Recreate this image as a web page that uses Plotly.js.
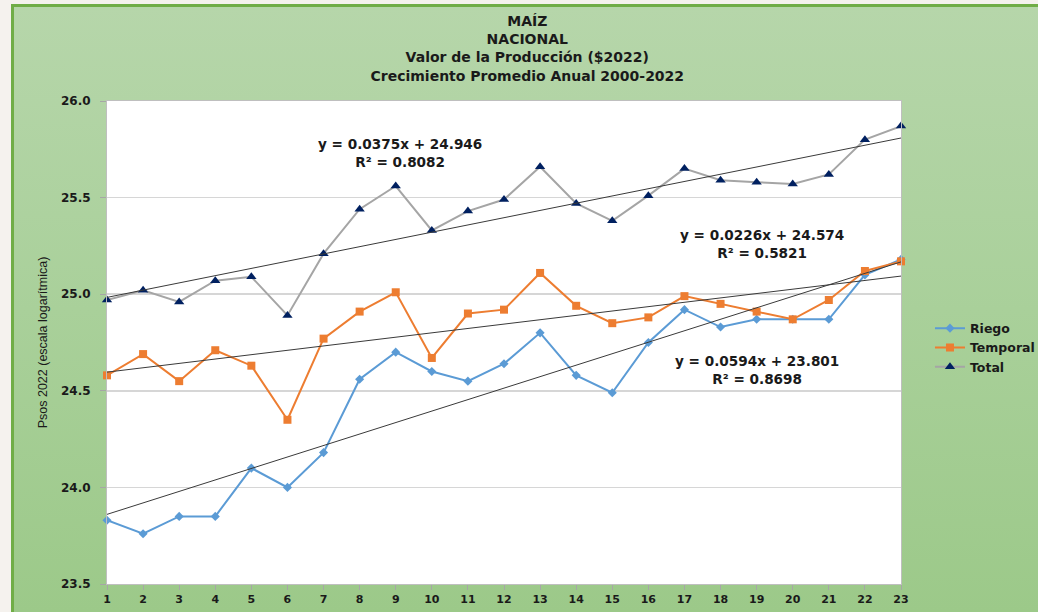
<!DOCTYPE html>
<html>
<head>
<meta charset="utf-8">
<script src="https://cdn.plot.ly/plotly-3.0.1.min.js"></script>
<style>
  html, body { margin: 0; padding: 0; width: 1038px; height: 612px; overflow: hidden; background: #f5f2ee; }
  #frame { position: absolute; left: 11px; top: 4px; width: 1027px; height: 608px; background: #70ad47; }
  #panel { position: absolute; left: 14px; top: 7px; width: 1024px; height: 605px;
           background: linear-gradient(to bottom, #b6d6aa 0%, #a9d09a 50%, #9cc989 100%); }
  #chart { position: absolute; left: 0; top: 0; width: 1038px; height: 612px; }
</style>
</head>
<body>
<div id="frame"></div>
<div id="panel"></div>
<div id="chart"></div>
<script>
// ---- data ----
const periods = [1,2,3,4,5,6,7,8,9,10,11,12,13,14,15,16,17,18,19,20,21,22,23];
const riego    = [23.83,23.76,23.85,23.85,24.10,24.00,24.18,24.56,24.70,24.60,24.55,24.64,24.80,24.58,24.49,24.75,24.92,24.83,24.87,24.87,24.87,25.10,25.18];
const temporal = [24.58,24.69,24.55,24.71,24.63,24.35,24.77,24.91,25.01,24.67,24.90,24.92,25.11,24.94,24.85,24.88,24.99,24.95,24.91,24.87,24.97,25.12,25.17];
const total    = [24.97,25.02,24.96,25.07,25.09,24.89,25.21,25.44,25.56,25.33,25.43,25.49,25.66,25.47,25.38,25.51,25.65,25.59,25.58,25.57,25.62,25.80,25.87];
const seriesNames = ["Riego", "Temporal", "Total"];
// trend-line equations as printed on the chart
const trendSlopes     = [0.0594, 0.0226, 0.0375];
const trendIntercepts = [23.801, 24.574, 24.946];
const trendR2         = ["0.8698", "0.5821", "0.8082"];
const titleLines = ["MAÍZ", "NACIONAL", "Valor de la Producción ($2022)", "Crecimiento Promedio Anual 2000-2022"];
const yTitle = "Psos 2022 (escala logarítmica)";

// ---- styling ----
const boldFont = "DejaVu Sans";
const colors = ["#5b9bd5", "#ed7d31", "#a5a5a5"];
const markers = [
  {symbol: "diamond", size: 7, color: "#5b9bd5"},
  {symbol: "square", size: 8, color: "#ed7d31"},
  {symbol: "triangle-up", size: 9, color: "#002060"}
];
const allSeries = [riego, temporal, total];

const traces = [];
allSeries.forEach((vals, i) => {
  traces.push({
    x: periods, y: vals, name: seriesNames[i], type: "scatter", mode: "lines+markers",
    line: {color: colors[i], width: 2},
    marker: markers[i], cliponaxis: false
  });
});
// trend lines
const xFirst = periods[0], xLast = periods[periods.length - 1];
trendSlopes.forEach((m, i) => {
  const b = trendIntercepts[i];
  traces.push({
    x: [xFirst, xLast], y: [m * xFirst + b, m * xLast + b],
    type: "scatter", mode: "lines", showlegend: false, hoverinfo: "skip",
    line: {color: "#3a3a3a", width: 1}
  });
});

function eqText(i) {
  return "y = " + trendSlopes[i].toFixed(4) + "x + " + trendIntercepts[i].toFixed(3) + "<br>R² = " + trendR2[i];
}
const eqFont = {family: boldFont, size: 13.6, color: "#1a1a1a", weight: "bold"};
const annotations = [
  {x: 9.13, y: 25.733, text: eqText(2)},
  {x: 19.16, y: 25.26, text: eqText(1)},
  {x: 19.0, y: 24.61, text: eqText(0)}
].map(a => Object.assign({xref: "x", yref: "y", showarrow: false, align: "center",
                           xanchor: "center", yanchor: "middle", font: eqFont}, a));

const layout = {
  width: 1038, height: 612,
  paper_bgcolor: "rgba(0,0,0,0)", plot_bgcolor: "#ffffff",
  margin: {l: 107, r: 137, t: 101, b: 28, autoexpand: false},
  font: {family: boldFont, color: "#1a1a1a"},
  title: {
    text: titleLines.join("<br>"),
    xref: "container", x: 0.508, xanchor: "center",
    yref: "container", y: 1 - 26/612, yanchor: "top",
    font: {family: boldFont, size: 14, weight: "bold", color: "#1a1a1a"}
  },
  xaxis: {
    range: [1, 23], tickmode: "array", tickvals: periods, ticktext: periods.map(String),
    ticks: "outside", ticklen: 5, tickcolor: "#a6a6a6", tickwidth: 1,
    showline: true, linecolor: "#bfbfbf", linewidth: 1, mirror: true,
    showgrid: false, zeroline: false,
    tickfont: {family: boldFont, size: 11, weight: "bold", color: "#1a1a1a"}
  },
  yaxis: {
    range: [23.5, 26.0], dtick: 0.5, tick0: 23.5, tickformat: ".1f",
    ticks: "outside", ticklen: 6, tickcolor: "#a6a6a6", tickwidth: 1, ticklabelstandoff: 7,
    showline: true, linecolor: "#bfbfbf", linewidth: 1, mirror: true,
    showgrid: true, gridcolor: "#d6d6d6", gridwidth: 1.5, zeroline: false,
    tickfont: {family: boldFont, size: 12, weight: "bold", color: "#1a1a1a"},
    title: {text: yTitle, standoff: 10,
            font: {family: "Liberation Sans Narrow, Liberation Sans, sans-serif", size: 12.5, color: "#1a1a1a"}}
  },
  legend: {
    x: 1.0365, xanchor: "left", y: 0.56, yanchor: "top",
    bgcolor: "rgba(0,0,0,0)", borderwidth: 0,
    font: {family: boldFont, size: 12.5, weight: "bold", color: "#1a1a1a"},
    itemwidth: 30, tracegroupgap: 0
  },
  annotations: annotations,
  showlegend: true
};

Plotly.newPlot("chart", traces, layout, {displayModeBar: false, staticPlot: true});
</script>
</body>
</html>
